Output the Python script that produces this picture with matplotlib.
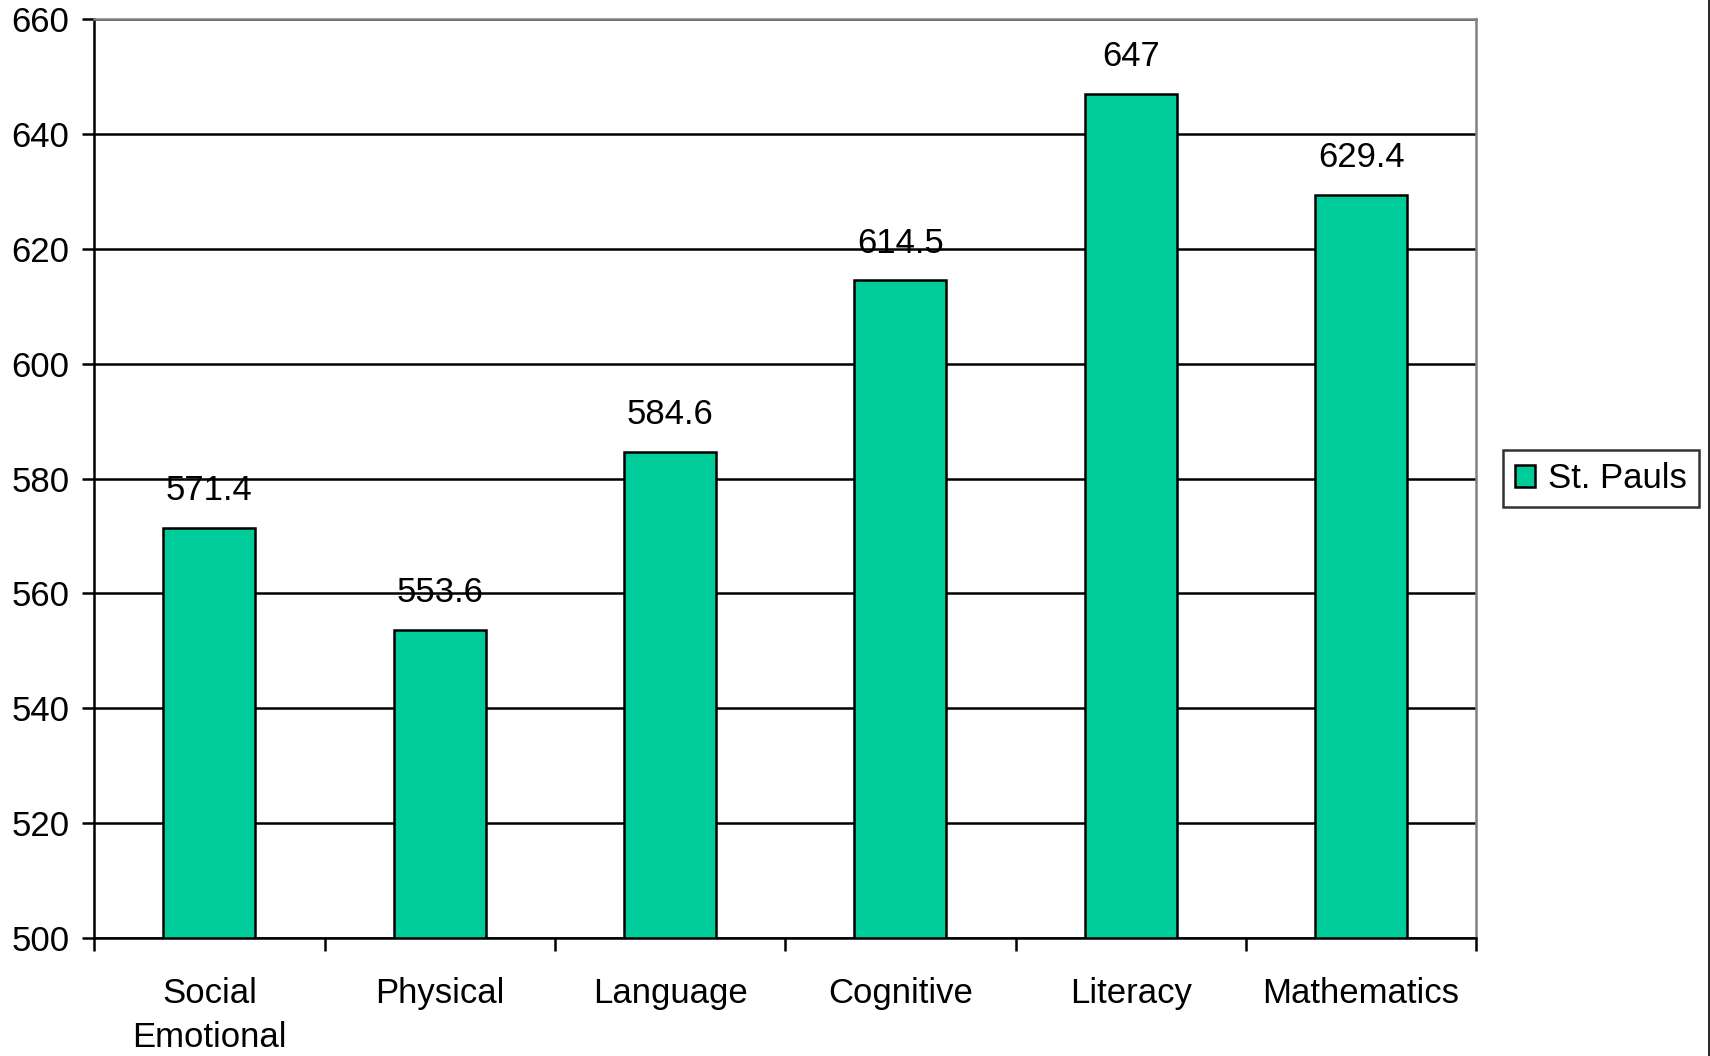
import numpy as np
import matplotlib.pyplot as plt
from matplotlib.lines import Line2D

plt.rcParams["font.family"] = ["Liberation Sans", "DejaVu Sans"]

categories = ["Social\nEmotional", "Physical", "Language", "Cognitive", "Literacy", "Mathematics"]
scores = [571.4, 553.6, 584.6, 614.5, 647, 629.4]
score_labels = ["571.4", "553.6", "584.6", "614.5", "647", "629.4"]
series_name = "St. Pauls"
y_ticks = [500, 520, 540, 560, 580, 600, 620, 640, 660]

BAR_COLOR = "#00CC99"
FS = 25
LW = 1.8

fig = plt.figure(figsize=(17.1, 10.56), dpi=100)
ax = fig.add_axes([0.0551, 0.1120, 0.8082, 0.8697])

x = np.arange(len(categories))
ax.bar(x, np.array(scores) - 500, bottom=500, width=0.4, color=BAR_COLOR,
       edgecolor="black", linewidth=LW, label=series_name, zorder=3)

for xi, v, lab in zip(x, scores, score_labels):
    ax.annotate(lab, (xi, v), xytext=(0, 15), textcoords="offset points",
                ha="center", va="bottom", fontsize=FS)

ax.set_xlim(-0.5, len(categories) - 0.5)
ax.set_ylim(500, 660)
ax.set_yticks(y_ticks)
ax.set_yticklabels([str(t) for t in y_ticks], fontsize=FS)
ax.tick_params(axis="y", length=9, width=LW, pad=9, direction="out")

# boundaries get tick marks, centres get the labels
ax.set_xticks(np.arange(len(categories) + 1) - 0.5)
ax.set_xticklabels([])
ax.tick_params(axis="x", which="major", length=9, width=LW, direction="out")
ax.set_xticks(x, minor=True)
ax.set_xticklabels(categories, minor=True, fontsize=FS, linespacing=1.45)
ax.tick_params(axis="x", which="minor", length=0, pad=28)

ax.grid(axis="y", color="black", linewidth=LW, zorder=0)
ax.set_axisbelow(True)
for side in ("left", "bottom"):
    ax.spines[side].set_color("black")
    ax.spines[side].set_linewidth(LW)
for side in ("top", "right"):
    ax.spines[side].set_color("#808080")
    ax.spines[side].set_linewidth(LW)

leg = ax.legend(loc="center left", bbox_to_anchor=(1.019, 0.5), fontsize=FS,
                frameon=True, fancybox=False, edgecolor="black",
                handlelength=0.6, handleheight=0.6, handletextpad=0.35,
                borderpad=0.35, borderaxespad=0)
leg.get_frame().set_linewidth(LW)

fig.add_artist(Line2D([0.9995, 0.9995], [0, 1], transform=fig.transFigure,
                      color="black", linewidth=1.2))

fig.savefig("out.png", dpi=100)
